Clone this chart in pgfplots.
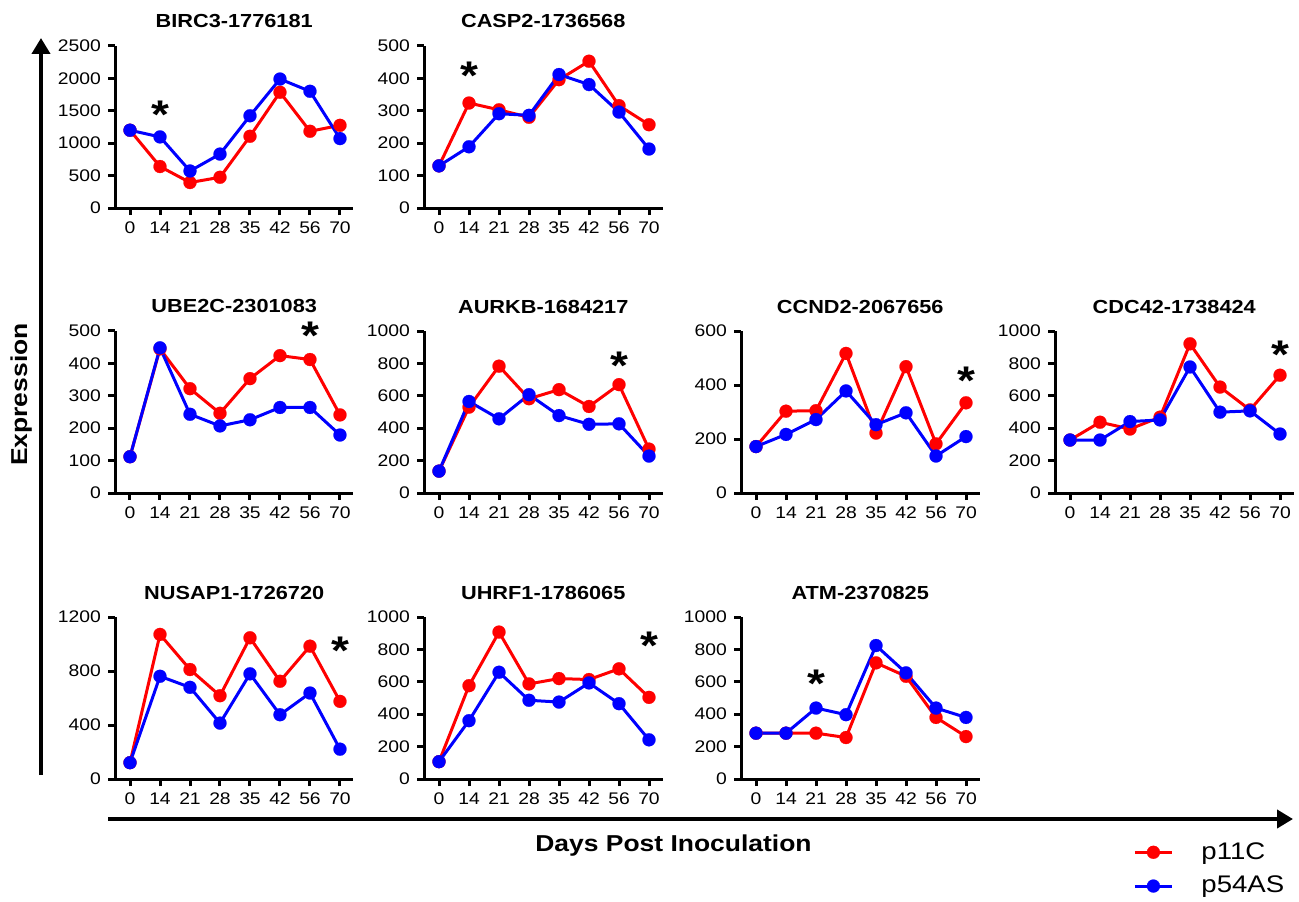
\documentclass[border=0pt]{standalone}
\usepackage{fontspec}
\setmainfont[FakeStretch=1.15]{Liberation Sans}
\usepackage{pgfplots}
\pgfplotsset{compat=1.18}
\usetikzlibrary{arrows.meta}

\pgfplotsset{
  panel/.style={
    width=119.25pt, height=81pt, scale only axis,
    anchor=south west,
    xmin=-0.5, xmax=7.45, ymin=0,
    axis x line*=bottom, axis y line*=left,
    axis line style={line width=1.5pt, -},
    xtick={0,...,7}, xticklabels={0,14,21,28,35,42,56,70},
    tick align=outside, major tick length=3.5pt,
    every tick/.style={black, line width=1.5pt},
    tick label style={font=\fontsize{8.4pt}{9pt}\selectfont},
    /pgf/number format/assume math mode=true,
    scaled y ticks=false,
    yticklabel style={/pgf/number format/1000 sep={}},
    title style={font=\bfseries\fontsize{9.45pt}{11pt}\selectfont, anchor=base, yshift=3pt},
    clip=false,
  },
  p11/.style={red, line width=1.5pt, mark=*, mark size=3.25pt, mark options={solid, fill=red, draw=red, line width=0.1pt}},
  p54/.style={blue, line width=1.5pt, mark=*, mark size=3.25pt, mark options={solid, fill=blue, draw=blue, line width=0.1pt}},
}
\tikzset{star/.style={font=\bfseries\fontsize{20pt}{20pt}\selectfont, anchor=north, inner sep=0pt}}

\begin{document}
\begin{tikzpicture}
\useasboundingbox (0,0) rectangle (649.5pt,450.5pt);

% row 1
\begin{axis}[panel, at={(57.5pt,346.5pt)}, title={BIRC3-1776181}, ymax=2500, ytick={0,500,...,2500}]
\addplot[p11] coordinates {(0,1200) (1,640) (2,393) (3,474) (4,1107) (5,1786) (6,1184) (7,1276)};
\addplot[p54] coordinates {(0,1200) (1,1097) (2,571) (3,832) (4,1423) (5,1990) (6,1801) (7,1071)};
\node[star] at (axis cs:1,1656) {*};
\end{axis}

\begin{axis}[panel, at={(212pt,346.5pt)}, title={CASP2-1736568}, ymax=500, ytick={0,100,...,500}]
\addplot[p11] coordinates {(0,130) (1,324) (2,303) (3,280) (4,396) (5,453) (6,316) (7,257)};
\addplot[p54] coordinates {(0,130) (1,189) (2,291) (3,286) (4,412) (5,381) (6,296) (7,182)};
\node[star] at (axis cs:1,453) {*};
\end{axis}

% row 2
\begin{axis}[panel, at={(57.5pt,204pt)}, title={UBE2C-2301083}, ymax=500, ytick={0,100,...,500}]
\addplot[p11] coordinates {(0,112) (1,445) (2,322) (3,246) (4,353) (5,424) (6,412) (7,241)};
\addplot[p54] coordinates {(0,112) (1,448) (2,243) (3,207) (4,226) (5,264) (6,264) (7,179)};
\node[star] at (axis cs:6,528) {*};
\end{axis}

\begin{axis}[panel, at={(212pt,204pt)}, title={AURKB-1684217}, ymax=1000, ytick={0,200,...,1000}]
\addplot[p11] coordinates {(0,135) (1,530) (2,783) (3,582) (4,638) (5,534) (6,669) (7,271)};
\addplot[p54] coordinates {(0,135) (1,565) (2,458) (3,607) (4,478) (5,424) (6,427) (7,228)};
\node[star] at (axis cs:6,876) {*};
\end{axis}

\begin{axis}[panel, at={(370.5pt,204pt)}, title={CCND2-2067656}, ymax=600, ytick={0,200,400,600}]
\addplot[p11] coordinates {(0,172) (1,303) (2,305) (3,517) (4,222) (5,468) (6,182) (7,334)};
\addplot[p54] coordinates {(0,172) (1,217) (2,272) (3,378) (4,253) (5,297) (6,137) (7,209)};
\node[star] at (axis cs:7,470) {*};
\end{axis}

\begin{axis}[panel, at={(527.5pt,204pt)}, title={CDC42-1738424}, ymax=1000, ytick={0,200,...,1000}]
\addplot[p11] coordinates {(0,327) (1,437) (2,395) (3,468) (4,921) (5,654) (6,513) (7,727)};
\addplot[p54] coordinates {(0,327) (1,327) (2,441) (3,451) (4,778) (5,499) (6,507) (7,364)};
\node[star] at (axis cs:7,938) {*};
\end{axis}

% row 3
\begin{axis}[panel, at={(57.5pt,61pt)}, title={NUSAP1-1726720}, ymax=1200, ytick={0,400,800,1200}]
\addplot[p11] coordinates {(0,121) (1,1071) (2,811) (3,617) (4,1046) (5,724) (6,984) (7,575)};
\addplot[p54] coordinates {(0,121) (1,761) (2,679) (3,414) (4,779) (5,476) (6,637) (7,221)};
\node[star] at (axis cs:7,1058) {*};
\end{axis}

\begin{axis}[panel, at={(212pt,61pt)}, title={UHRF1-1786065}, ymax=1000, ytick={0,200,...,1000}]
\addplot[p11] coordinates {(0,107) (1,576) (2,907) (3,587) (4,620) (5,614) (6,680) (7,504)};
\addplot[p54] coordinates {(0,107) (1,360) (2,659) (3,486) (4,475) (5,593) (6,465) (7,242)};
\node[star] at (axis cs:7,913) {*};
\end{axis}

\begin{axis}[panel, at={(370.5pt,61pt)}, title={ATM-2370825}, ymax=1000, ytick={0,200,...,1000}]
\addplot[p11] coordinates {(0,283) (1,283) (2,283) (3,256) (4,717) (5,634) (6,380) (7,262)};
\addplot[p54] coordinates {(0,283) (1,283) (2,438) (3,397) (4,824) (5,655) (6,438) (7,380)};
\node[star] at (axis cs:2,677) {*};
\end{axis}

% legend
\begin{axis}[at={(0pt,0pt)}, anchor=south west, width=100pt, height=100pt, scale only axis,
  hide axis, xmin=0, xmax=1, ymin=0, ymax=1,
  legend style={at={(5.635,0.335)}, anchor=north west, draw=none, fill=none,
    font=\fontsize{12pt}{14pt}\selectfont, row sep=3pt, column sep=12pt},
  legend cell align=left,
  legend image code/.code={\draw[mark repeat=2, mark phase=2] plot coordinates {(0cm,0cm) (0.325cm,0cm) (0.65cm,0cm)};}]
\addlegendimage{p11}
\addlegendentry{p11C}
\addlegendimage{p54}
\addlegendentry{p54AS}
\end{axis}

% big axis arrows and labels
\draw[line width=2pt, -{Triangle[width=9pt, length=8pt]}] (20.5pt,63pt) -- (20.5pt,431.5pt);
\draw[line width=2pt, -{Triangle[width=9pt, length=8pt]}] (54pt,41pt) -- (646.5pt,41pt);
\node[rotate=90, anchor=base, font=\bfseries\fontsize{11.5pt}{13pt}\selectfont] at (13.5pt,253.25pt) {Expression};
\node[anchor=base, font=\bfseries\fontsize{11.5pt}{13pt}\selectfont] at (336.75pt,25pt) {Days Post Inoculation};
\end{tikzpicture}
\end{document}
